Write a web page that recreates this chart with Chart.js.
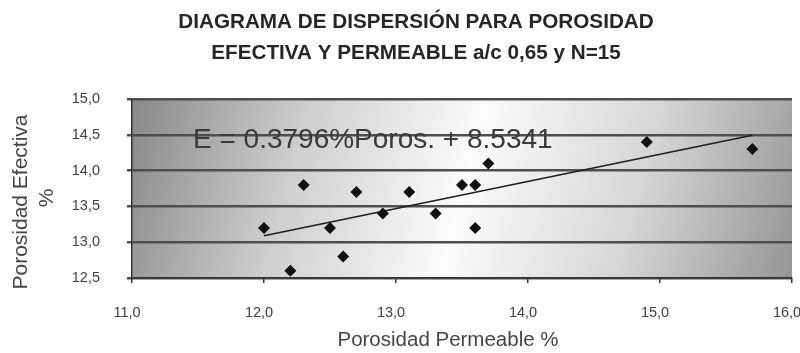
<!DOCTYPE html>
<html>
<head>
<meta charset="utf-8">
<script src="https://cdn.jsdelivr.net/npm/chart.js@4.4.0/dist/chart.umd.min.js"></script>
<style>
  html, body { margin: 0; padding: 0; background: #ffffff; }
  #wrap { width: 800px; height: 353px; position: relative; }
</style>
</head>
<body>
<div id="wrap"><canvas id="chart"></canvas></div>
<script>
// Porosidad permeable (x) y porosidad efectiva (y), 15 muestras a/c 0,65
const permeable = [12.0, 12.2, 12.3, 12.5, 12.6, 12.7, 12.9, 13.1, 13.3, 13.5, 13.6, 13.6, 13.7, 14.9, 15.7];
const efectiva  = [13.2, 12.6, 13.8, 13.2, 12.8, 13.7, 13.4, 13.7, 13.4, 13.8, 13.8, 13.2, 14.1, 14.4, 14.3];

// Recta de regresión: E = 0.3796·%Poros + 8.5341
const pendiente = 0.3796;
const intercepto = 8.5341;
const ecuacion = 'E = 0.3796%Poros. + 8.5341';

const xTicks = [11.0, 12.0, 13.0, 14.0, 15.0, 16.0];
const yTicks = [12.5, 13.0, 13.5, 14.0, 14.5, 15.0];

const titulo = ['DIAGRAMA DE DISPERSIÓN PARA POROSIDAD', 'EFECTIVA Y PERMEABLE a/c 0,65 y N=15'];
const tituloX = 'Porosidad Permeable %';
const tituloY = ['Porosidad Efectiva', '%'];

const puntos = permeable.map((x, i) => ({ x: x, y: efectiva[i] }));
const xMin = Math.min(...permeable);
const xMax = Math.max(...permeable);
const recta = [xMin, xMax].map(x => ({ x: x, y: pendiente * x + intercepto }));

const coma = v => Number(v).toFixed(1).replace('.', ',');
const FUENTE = '"Liberation Sans", Arial, sans-serif';

// Fondo degradado del área de trazado
const fondo = {
  id: 'fondo',
  beforeDraw(chart) {
    const { ctx, chartArea: a } = chart;
    const g = ctx.createLinearGradient(a.left, a.top, a.right, a.bottom);
    g.addColorStop(0, '#888888');
    g.addColorStop(0.25, '#cecece');
    g.addColorStop(0.5, '#fbfbfb');
    g.addColorStop(0.75, '#d6d6d6');
    g.addColorStop(1, '#959595');
    ctx.save();
    ctx.fillStyle = g;
    ctx.fillRect(a.left, a.top, a.right - a.left, a.bottom - a.top);
    ctx.restore();
  }
};

// Ecuación de la recta sobre el área de trazado
const etiquetaEcuacion = {
  id: 'etiquetaEcuacion',
  afterDatasetsDraw(chart) {
    const { ctx, chartArea: a } = chart;
    ctx.save();
    ctx.font = '28px ' + FUENTE;
    ctx.fillStyle = '#3a3a3a';
    ctx.textAlign = 'left';
    ctx.textBaseline = 'alphabetic';
    ctx.fillText(ecuacion, a.left + 61, a.top + 49);
    ctx.restore();
  }
};

// Títulos de los ejes
const titulosEjes = {
  id: 'titulosEjes',
  afterDraw(chart) {
    const { ctx, chartArea: a } = chart;
    ctx.save();
    ctx.fillStyle = '#454545';
    ctx.textAlign = 'center';
    ctx.textBaseline = 'middle';
    ctx.font = '20.5px ' + FUENTE;
    ctx.fillText(tituloX, a.left + 316, a.bottom + 62);
    ctx.translate(21, a.top + 103);
    ctx.rotate(-Math.PI / 2);
    ctx.font = '21px ' + FUENTE;
    ctx.fillText(tituloY[0], 0, 0);
    ctx.fillText(tituloY[1], 4, 26);
    ctx.restore();
  }
};

function fijarAncho(w) {
  return function (scale) {
    scale.width = w;
    scale.paddingTop = 0; scale.paddingBottom = 0;
    scale.paddingLeft = 0; scale.paddingRight = 0;
  };
}
function fijarAlto(h) {
  return function (scale) {
    scale.height = h;
    scale.paddingLeft = 0; scale.paddingRight = 0;
    scale.paddingTop = 0; scale.paddingBottom = 0;
  };
}

new Chart(document.getElementById('chart'), {
  type: 'scatter',
  data: {
    datasets: [
      {
        label: 'Tendencia',
        data: recta,
        showLine: true,
        borderColor: '#1e1e1e',
        borderWidth: 1.6,
        pointRadius: 0,
        fill: false,
        order: 2
      },
      {
        label: 'Muestras',
        data: puntos,
        pointStyle: 'rectRot',
        pointRadius: 6,
        pointHoverRadius: 6,
        backgroundColor: '#111111',
        borderColor: '#111111',
        borderWidth: 0,
        order: 1
      }
    ]
  },
  options: {
    responsive: true,
    maintainAspectRatio: false,
    animation: false,
    events: [],
    layout: { padding: { left: 40, right: 8, top: 0, bottom: 0 } },
    plugins: {
      legend: { display: false },
      tooltip: { enabled: false },
      title: {
        display: true,
        text: titulo,
        color: '#262626',
        font: { family: FUENTE, size: 20.7, weight: 'bold', lineHeight: '31px' },
        padding: { top: 6.5, bottom: 30.5 }
      }
    },
    scales: {
      x: {
        type: 'linear',
        min: 11, max: 16,
        afterBuildTicks(scale) { scale.ticks = xTicks.map(v => ({ value: v })); },
        afterFit: fijarAlto(75),
        ticks: {
          callback: v => coma(v),
          color: '#404040',
          font: { family: FUENTE, size: 14.5 },
          padding: 21,
          labelOffset: -5,
          maxRotation: 0,
          autoSkip: false
        },
        grid: { drawOnChartArea: false, drawTicks: true, tickLength: 5, color: '#333333', lineWidth: 1.5 },
        border: { display: true, color: '#333333', width: 1.5 },
        title: { display: false }
      },
      y: {
        type: 'linear',
        min: 12.5, max: 15,
        afterBuildTicks(scale) { scale.ticks = yTicks.map(v => ({ value: v })); },
        afterFit: fijarAncho(92),
        ticks: {
          callback: v => coma(v),
          color: '#404040',
          font: { family: FUENTE, size: 14.5 },
          padding: 27,
          autoSkip: false
        },
        grid: { drawOnChartArea: true, drawTicks: true, tickLength: 5, color: '#4e4e4e', lineWidth: 2.5 },
        border: { display: true, color: '#333333', width: 1.5 },
        title: { display: false }
      }
    }
  },
  plugins: [fondo, etiquetaEcuacion, titulosEjes]
});
</script>
</body>
</html>
